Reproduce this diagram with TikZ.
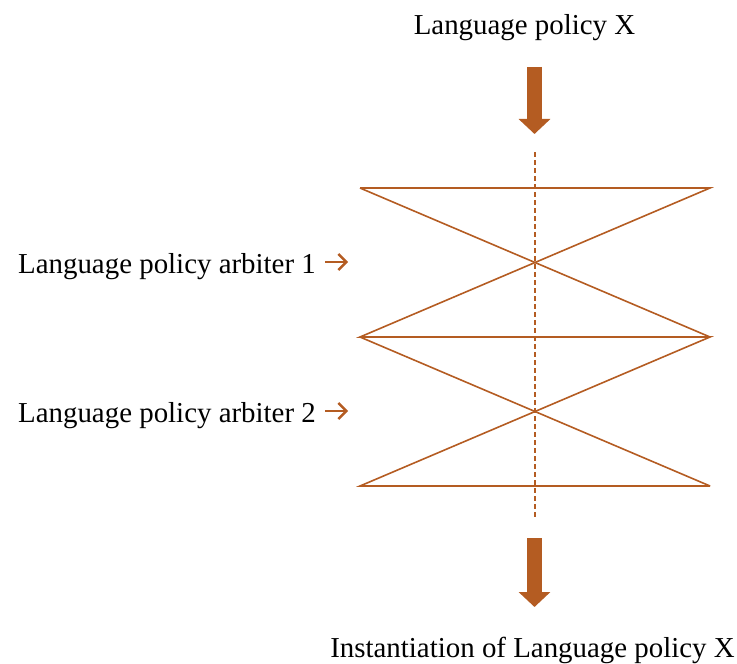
\documentclass[tikz,border=0pt]{standalone}
\usepackage{fontspec}
\setmainfont{Liberation Serif}
\usetikzlibrary{positioning,arrows.meta,calc}
\definecolor{rust}{RGB}{180,92,34}

\begin{document}
\begin{tikzpicture}[x=1bp,y=-1bp,
	txt/.style={font=\fontsize{29}{34}\selectfont,inner sep=0pt},
	fat/.style={rust,line width=15bp,-{Triangle[width=31bp,length=15bp]}},
	hglass/.style={rust,line width=1.6bp},
	small/.style={rust,line width=2.4bp,-{Straight Barb[length=8bp,width=16bp]}}]
	\useasboundingbox (0,0) rectangle (737,664);

	\node[txt,anchor=base] (top) at (524.5,35) {Language policy X};
	\node[txt,anchor=base] (bot) at (532.5,657) {Instantiation of Language policy X};
	\node[txt,anchor=base east] (arb1) at (316,273) {Language policy arbiter 1};
	\node[txt,anchor=base east] (arb2) at (316,422) {Language policy arbiter 2};

	\coordinate (L1) at (360,188);
	\coordinate (R1) at (710,188);
	\coordinate (L2) at (360,337);
	\coordinate (R2) at (710,337);
	\coordinate (L3) at (360,486);
	\coordinate (R3) at (710,486);

	\coordinate (D1) at (535,152);
	\coordinate (D2) at (535,520);

	\coordinate (A1) at (534.5,67);
	\coordinate (A2) at (534.5,134);
	\coordinate (B1) at (534.5,538);
	\coordinate (B2) at (534.5,607);

	\coordinate (s1) at (325,262);
	\coordinate (e1) at (348,262);
	\coordinate (s2) at (325,411);
	\coordinate (e2) at (348,411);

	\draw[fat] (A1) -- (A2);
	\draw[fat] (B1) -- (B2);

	\draw[hglass] (L1) -- (R1) -- (L2) -- (R2) -- (L3) -- (R3);
	\draw[hglass] (L1) -- (R2);
	\draw[hglass] (L2) -- (R3);
	\draw[hglass,dash pattern=on 5bp off 3bp] (D1) -- (D2);

	\draw[small] (s1) -- (e1);
	\draw[small] (s2) -- (e2);
\end{tikzpicture}
\end{document}
